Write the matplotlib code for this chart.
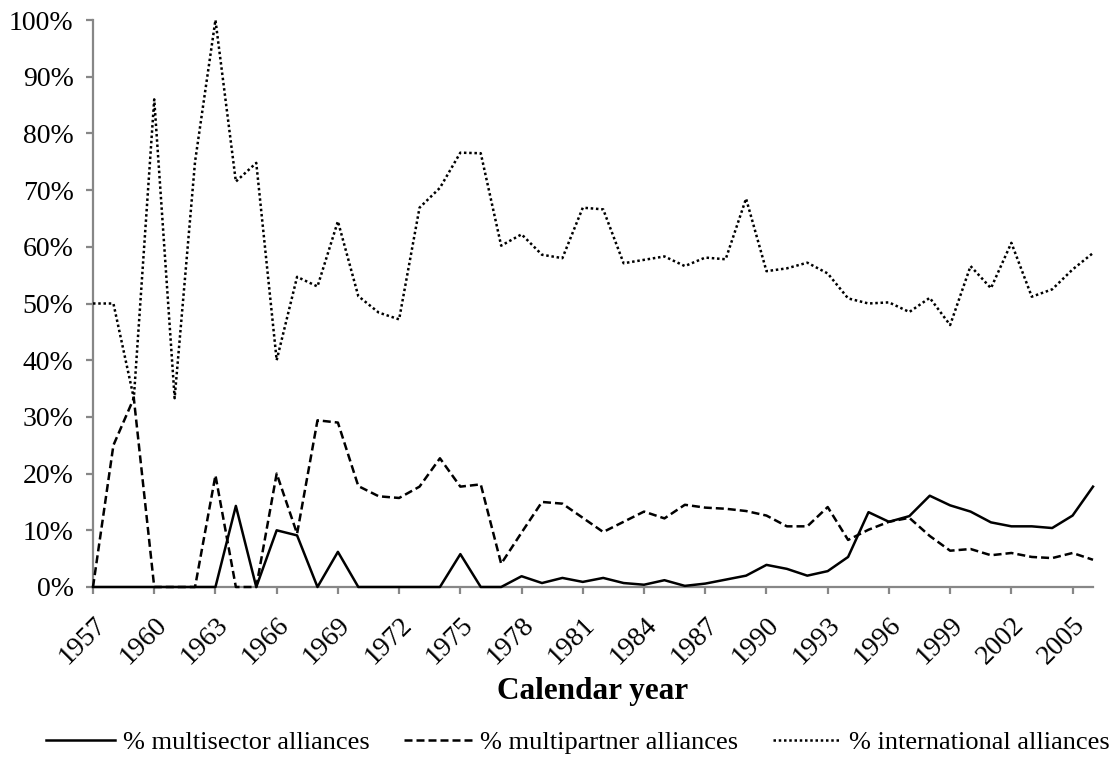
import matplotlib
matplotlib.use("Agg")
import matplotlib.pyplot as plt
from matplotlib.ticker import FuncFormatter
from matplotlib.transforms import ScaledTranslation

plt.rcParams['font.family'] = ['Liberation Serif', 'DejaVu Serif']

years = list(range(1957, 2007))

# % multisector alliances
multisector = [0, 0, 0, 0, 0, 0, 0, 14.3, 0, 10.0,
               9.1, 0, 6.2, 0, 0, 0, 0, 0, 5.8, 0,
               0, 1.9, 0.7, 1.6, 0.9, 1.6, 0.7, 0.4, 1.2, 0.2,
               0.6, 1.3, 2.0, 3.9, 3.2, 2.0, 2.8, 5.3, 13.2, 11.5,
               12.5, 16.1, 14.4, 13.3, 11.4, 10.7, 10.7, 10.4, 12.6, 17.7]

# % multipartner alliances
multipartner = [0, 25.0, 33.3, 0, 0, 0, 19.7, 0, 0, 20.0,
                9.4, 29.4, 29.0, 17.8, 16.0, 15.7, 17.7, 22.7, 17.7, 18.1,
                4.1, 9.6, 15.0, 14.7, 12.2, 9.7, 11.5, 13.3, 12.1, 14.5,
                14.0, 13.8, 13.4, 12.6, 10.7, 10.7, 14.1, 8.3, 10.1, 11.5,
                12.2, 9.0, 6.4, 6.7, 5.6, 6.0, 5.3, 5.1, 6.0, 4.8]

# % international alliances
international = [50.0, 50.0, 33.3, 86.0, 33.3, 75.0, 100.0, 71.5, 74.8, 40.0,
                 54.7, 53.0, 64.5, 51.3, 48.4, 47.2, 66.9, 70.4, 76.6, 76.5,
                 60.2, 62.2, 58.6, 58.0, 66.9, 66.6, 57.1, 57.7, 58.3, 56.6,
                 58.1, 57.8, 68.5, 55.7, 56.2, 57.2, 55.3, 50.9, 50.0, 50.2,
                 48.5, 51.0, 46.2, 56.6, 52.7, 60.7, 51.2, 52.5, 56.0, 58.9]

xticks = list(range(1957, 2006, 3))

W, H = 1117, 759
fig = plt.figure(figsize=(W / 100, H / 100), dpi=100)
ax = fig.add_axes([93 / W, 1 - 587 / H, 1000 / W, 567 / H])

lw = 1.8
ax.plot(years, multisector, color='black', lw=lw, linestyle='-',
        label='% multisector alliances', clip_on=False, zorder=4)
ax.plot(years, multipartner, color='black', lw=lw, linestyle=(0, (3.2, 1.6)),
        label='% multipartner alliances', clip_on=False, zorder=4)
ax.plot(years, international, color='black', lw=1.8, linestyle=(0, (1, 1.1)),
        label='% international alliances', clip_on=False, zorder=4)

ax.set_xlim(1957, 2006)
ax.set_ylim(0, 100)
ax.set_yticks(range(0, 101, 10))
ax.yaxis.set_major_formatter(FuncFormatter(lambda v, p: '{:.0f}%'.format(v)))
ax.set_xticks(xticks)
ax.set_xticklabels([str(y) for y in xticks], rotation=45, ha='right',
                   va='top', rotation_mode='anchor')
# nudge the rotated year labels a little to the left
shift = ScaledTranslation(-6 / 100, 0, fig.dpi_scale_trans)
for lab in ax.get_xticklabels():
    lab.set_transform(lab.get_transform() + shift)

grey = '#878787'
for side in ['top', 'right']:
    ax.spines[side].set_visible(False)
for side in ['left', 'bottom']:
    ax.spines[side].set_color(grey)
    ax.spines[side].set_linewidth(1.6)
ax.tick_params(axis='both', colors=grey, width=1.6, length=5, labelcolor='black',
               labelsize=20)
ax.tick_params(axis='x', pad=13)
ax.tick_params(axis='y', pad=9)

fig.text(593 / W, 1 - 691 / H, 'Calendar year', ha='center', va='center',
         fontsize=22.5, fontweight='bold')

fig.legend(loc='center', bbox_to_anchor=(578 / W, 1 - 742 / H), ncol=3,
           frameon=False, fontsize=19, handlelength=2.6, columnspacing=1.3,
           handletextpad=0.3)

fig.savefig('out.png', dpi=100)
